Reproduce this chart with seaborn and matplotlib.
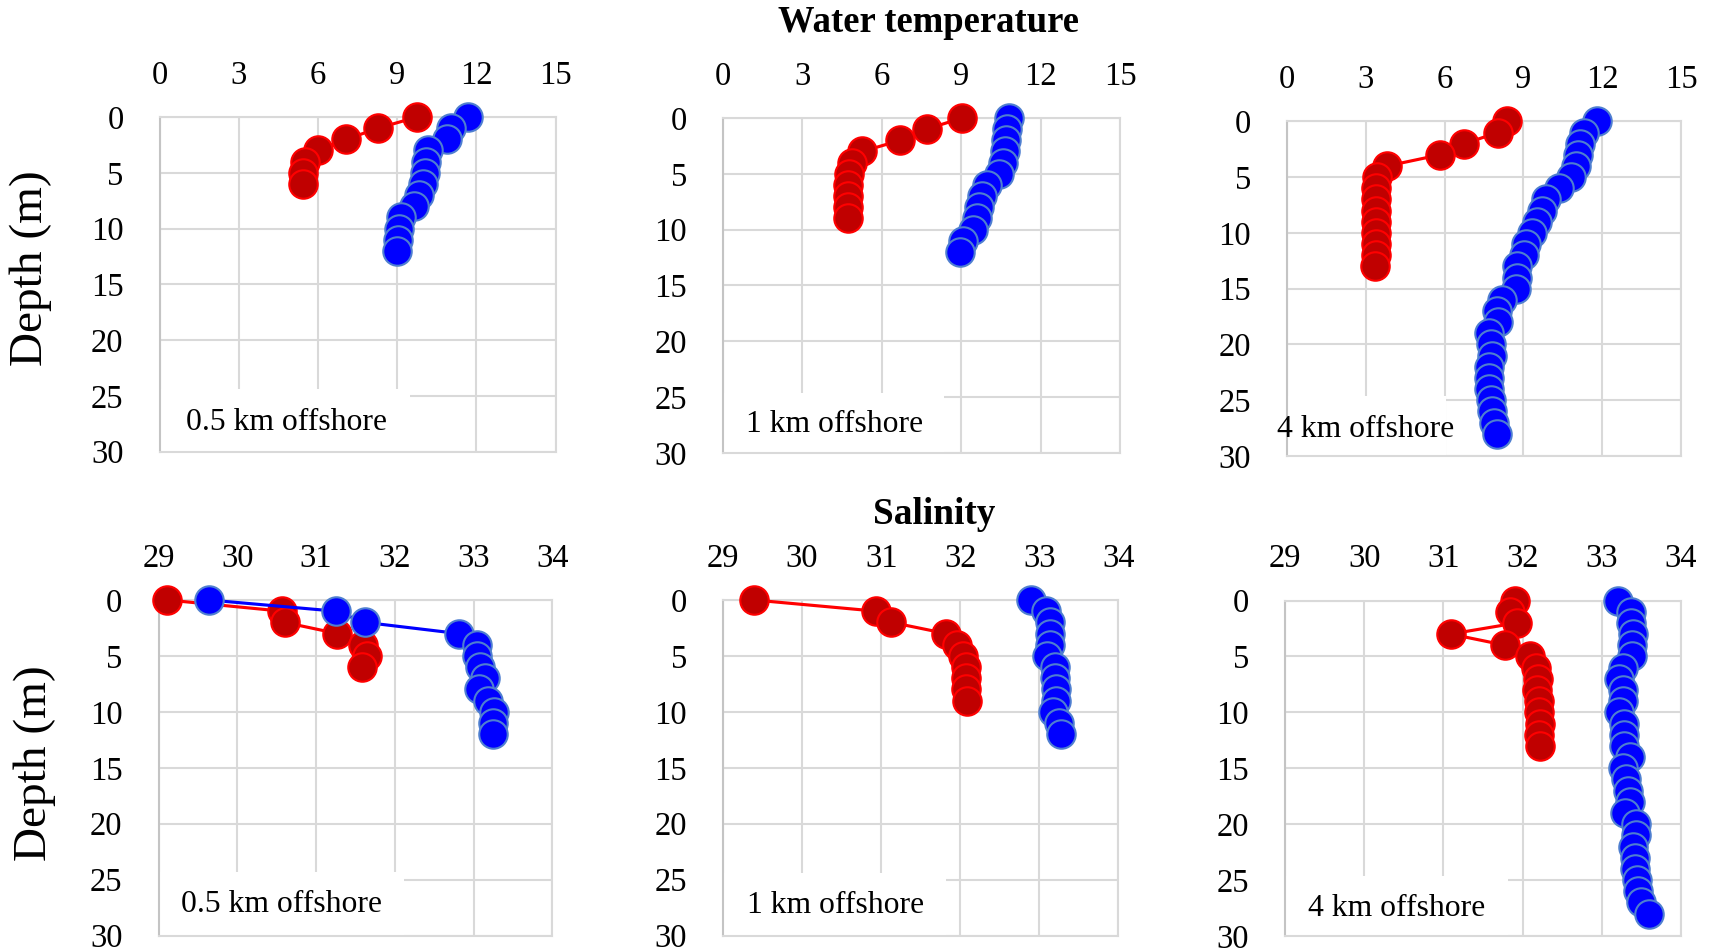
import numpy as np
import pandas as pd
import matplotlib
matplotlib.use("Agg")
import matplotlib.pyplot as plt
import seaborn as sns
from matplotlib.patches import Rectangle

# ---------------- data ----------------
# Water temperature, 0.5 km offshore
temp05_red = [9.75, 8.28, 7.07, 5.99, 5.49, 5.42, 5.43]
temp05_blue = [11.67, 11.05, 10.9, 10.18, 10.1, 10.06, 9.97, 9.83, 9.62, 9.16, 9.06, 9.01, 8.99]
# Water temperature, 1 km offshore
temp1_red = [9.03, 7.69, 6.70, 5.26, 4.87, 4.77, 4.73, 4.73, 4.73, 4.73]
temp1_blue = [10.81, 10.74, 10.71, 10.67, 10.57, 10.43, 9.97, 9.80, 9.69, 9.59, 9.45, 9.06, 8.97]
# Water temperature, 4 km offshore
temp4_red = [8.36, 8.02, 6.75, 5.81, 3.81, 3.44, 3.40, 3.37, 3.37, 3.37, 3.37, 3.37, 3.37, 3.35]
temp4_blue = [11.80, 11.30, 11.16, 11.09, 11.0, 10.82, 10.37, 9.86, 9.70, 9.52, 9.34, 9.11, 9.04,
              8.77, 8.77, 8.70, 8.20, 7.98, 8.02, 7.68, 7.75, 7.79, 7.68, 7.68, 7.70, 7.75, 7.81,
              7.88, 7.98]
# Salinity, 0.5 km offshore
sal05_red = [29.11, 30.57, 30.60, 31.27, 31.59, 31.65, 31.58]
sal05_blue = [29.64, 31.25, 31.62, 32.81, 33.05, 33.05, 33.08, 33.14, 33.07, 33.18, 33.26, 33.25, 33.25]
# Salinity, 1 km offshore
sal1_red = [29.39, 30.94, 31.13, 31.82, 31.96, 32.04, 32.07, 32.07, 32.07, 32.08]
sal1_blue = [32.90, 33.08, 33.13, 33.13, 33.14, 33.10, 33.20, 33.20, 33.21, 33.21, 33.17, 33.25, 33.27]
# Salinity, 4 km offshore
sal4_red = [31.91, 31.84, 31.93, 31.09, 31.78, 32.09, 32.17, 32.19, 32.18, 32.21, 32.21, 32.22,
            32.21, 32.22]
sal4_blue = [33.20, 33.37, 33.37, 33.40, 33.38, 33.38, 33.27, 33.22, 33.27, 33.27, 33.22, 33.28,
             33.28, 33.28, 33.36, 33.27, 33.31, 33.33, 33.36, 33.29, 33.43, 33.43, 33.40, 33.42,
             33.42, 33.44, 33.46, 33.49, 33.59]

panel_labels = ["0.5 km offshore", "1 km offshore", "4 km offshore"]
temp_ticks = [0, 3, 6, 9, 12, 15]
sal_ticks = [29, 30, 31, 32, 33, 34]
depth_ticks = [0, 5, 10, 15, 20, 25, 30]

# ---------------- style ----------------
sns.set_theme(style="white")
plt.rcParams["font.family"] = ["Liberation Serif", "DejaVu Serif"]
plt.rcParams["text.color"] = "black"
plt.rcParams["xtick.color"] = "black"
plt.rcParams["ytick.color"] = "black"

RED_LINE, RED_FILL = "#FF0000", "#C00000"
BLUE_LINE, BLUE_FILL, BLUE_EDGE = "#0000FF", "#0000FF", "#4F7FD0"
GRID = "#D9D9D9"

fig = plt.figure(figsize=(17.15, 9.52), dpi=100)

W, H = 1715.0, 952.0
def pos(l, r, t, b):
    return [l / W, 1 - b / H, (r - l) / W, (b - t) / H]

positions = [
    pos(159.7, 555.6, 117.0, 451.7),
    pos(723.0, 1120.0, 118.0, 452.8),
    pos(1287.0, 1681.0, 121.4, 456.0),
    pos(158.6, 552.3, 600.0, 935.5),
    pos(723.0, 1118.5, 600.0, 935.5),
    pos(1285.0, 1681.0, 600.5, 936.0),
]

series = [
    (temp05_red, temp05_blue), (temp1_red, temp1_blue), (temp4_red, temp4_blue),
    (sal05_red, sal05_blue), (sal1_red, sal1_blue), (sal4_red, sal4_blue),
]
# label box (x_right, y_top) and text anchor (x, y) in data coords
boxes = [(9.5, 24.4), (8.36, 24.6), (6.04, 24.6), (32.12, 24.3), (31.82, 24.4), (31.82, 24.6)]
text_pos = [(1.0, 27.4), (0.88, 27.5), (-0.38, 27.6), (29.29, 27.2), (29.30, 27.3), (29.29, 27.5)]

for i, p in enumerate(positions):
    ax = fig.add_axes(p)
    red, blue = series[i]
    is_temp = i < 3
    xlim = (0, 15) if is_temp else (29, 34)
    xt = temp_ticks if is_temp else sal_ticks

    dr = np.arange(len(red))
    db = np.arange(len(blue))
    sns.lineplot(x=red, y=dr, sort=False, estimator=None, ax=ax, color=RED_LINE, lw=2.25,
                 marker="o", markersize=20.5, markerfacecolor=RED_FILL,
                 markeredgecolor=RED_LINE, markeredgewidth=1.5, zorder=3, clip_on=False)
    sns.lineplot(x=blue, y=db, sort=False, estimator=None, ax=ax, color=BLUE_LINE, lw=2.25,
                 marker="o", markersize=20.5, markerfacecolor=BLUE_FILL,
                 markeredgecolor=BLUE_EDGE, markeredgewidth=1.5, zorder=4, clip_on=False)

    ax.set_xlim(*xlim)
    ax.set_ylim(30, 0)
    ax.set_xticks(xt)
    ax.set_yticks(depth_ticks)
    ax.set_xlabel("")
    ax.set_ylabel("")
    ax.xaxis.tick_top()
    ax.tick_params(axis="x", which="both", top=False, bottom=False, labeltop=True,
                   labelbottom=False, length=0, pad=19, labelsize=23.5, colors="black")
    ax.tick_params(axis="y", length=0, pad=26, labelsize=23.5, colors="black")
    ax.grid(True, color=GRID, lw=1.5)
    ax.set_axisbelow(True)
    for name, sp in ax.spines.items():
        sp.set_visible(True)
        sp.set_color(GRID)
        sp.set_linewidth(1.5)
    ax.spines["left"].set_color("#C4C4C4")
    for sp in ax.spines.values():
        sp.set_zorder(2.5)

    xr, yt = boxes[i]
    ax.add_patch(Rectangle((xlim[0], yt), xr - xlim[0], 30 - yt, facecolor="white",
                           edgecolor="none", zorder=1.5))
    tx, ty = text_pos[i]
    ax.text(tx, ty, panel_labels[i % 3], fontsize=22.8, ha="left", va="center",
            color="black", zorder=5, clip_on=False)

fig.text(928.6 / W, 1 - 23 / H, "Water temperature", fontsize=26.4, fontweight="bold",
         ha="center", va="center", color="black")
fig.text(934 / W, 1 - 515 / H, "Salinity", fontsize=26.8, fontweight="bold",
         ha="center", va="center", color="black")
fig.text(31 / W, 1 - 268 / H, "Depth (m)", fontsize=34, rotation=90, ha="center", va="center",
         color="black")
fig.text(35 / W, 1 - 763 / H, "Depth (m)", fontsize=34, rotation=90, ha="center", va="center",
         color="black")

fig.savefig("out.png", dpi=100)
